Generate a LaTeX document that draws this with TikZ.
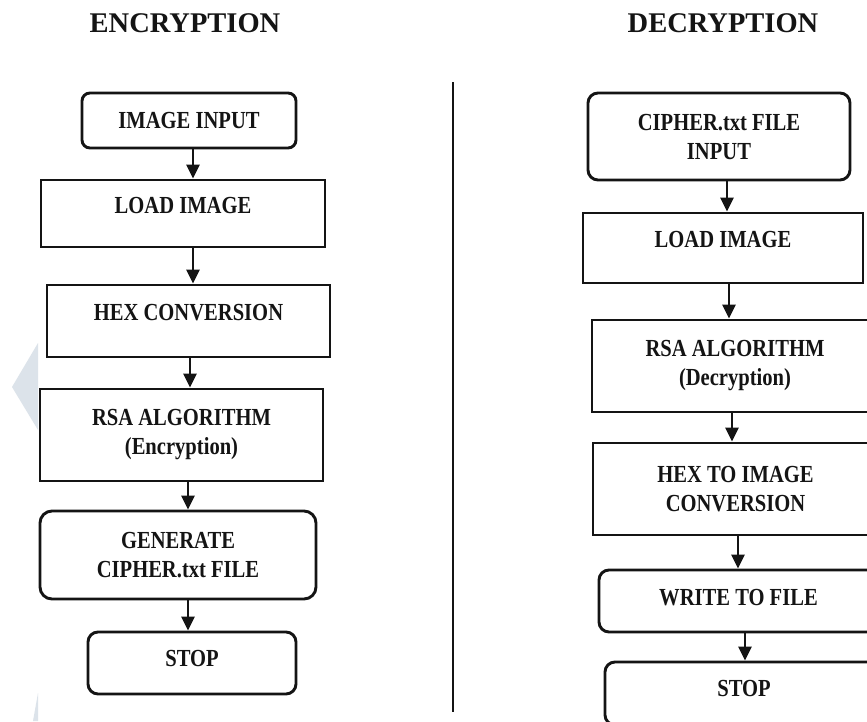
\documentclass[tikz,border=0pt]{standalone}
\usepackage{fontspec}
\setmainfont{Liberation Serif}
\newfontfamily\boxfont[FakeStretch=0.84]{Liberation Serif}
\usetikzlibrary{arrows.meta, calc}
\definecolor{ink}{HTML}{141414}
\definecolor{wmark}{HTML}{DCE3EA}

\begin{document}
\begin{tikzpicture}[
  x=1pt, y=-1pt,
  >={Triangle[length=14pt, width=13pt]},
  flowbox/.style={draw=ink, line width=2.9pt, fill=white, text=ink,
    font=\boxfont\fontsize{24.5}{29}\selectfont\bfseries,
    align=center, inner sep=0pt},
  termbox/.style={flowbox, rounded corners=#1},
  termbox/.default=8pt,
  flowarrow/.style={->, draw=ink, line width=2.6pt},
  heading/.style={font=\fontsize{28.5}{34}\selectfont\bfseries, text=ink},
]

% Page
\useasboundingbox (0,0) rectangle (867,721);
\clip (0,0) rectangle (867,721);
\fill[white] (0,0) rectangle (867,721);

% Faint marks on the left edge
\fill[wmark] (38,343) -- (12,387) -- (38,430) -- cycle;
\fill[wmark] (38,693) -- (33,721) -- (38,721) -- cycle;

% Titles
\node[heading] (enctitle) at (185,23) {ENCRYPTION};
\node[heading] (dectitle) at (723,23) {DECRYPTION};

% Divider
\draw[ink, line width=2.2pt] (453,82) -- (453,712);

% === Encryption ===
\node[termbox, minimum width=214pt, minimum height=55pt] (imgin) at (189,120.5)
  {IMAGE INPUT};
\node[flowbox, minimum width=284pt, minimum height=67pt, text depth=17pt] (loadenc) at (183,213.5)
  {LOAD IMAGE};
\node[flowbox, minimum width=283pt, minimum height=72pt, text depth=17pt] (hexenc) at (188.5,321)
  {HEX CONVERSION};
\node[flowbox, minimum width=283pt, minimum height=92pt] (rsaenc) at (181.5,435)
  {RSA ALGORITHM\\(Encryption)};
\node[termbox=12pt, minimum width=276pt, minimum height=88pt] (gencipher) at (178,555)
  {GENERATE\\CIPHER.txt FILE};
\node[termbox=10pt, minimum width=208pt, minimum height=62pt, text depth=9pt] (stopenc) at (192,663)
  {STOP};

\draw[flowarrow] ([xshift=4pt]imgin.south) -- ([xshift=4pt]imgin.south |- loadenc.north);
\draw[flowarrow] ([xshift=10pt]loadenc.south) -- ([xshift=10pt]loadenc.south |- hexenc.north);
\draw[flowarrow] ([xshift=1.5pt]hexenc.south) -- ([xshift=1.5pt]hexenc.south |- rsaenc.north);
\draw[flowarrow] ([xshift=6.5pt]rsaenc.south) -- ([xshift=6.5pt]rsaenc.south |- gencipher.north);
\draw[flowarrow] ([xshift=10pt]gencipher.south) -- ([xshift=10pt]gencipher.south |- stopenc.north);

% === Decryption ===
\node[termbox=10pt, minimum width=262pt, minimum height=87pt] (cipherin) at (719,136.5)
  {CIPHER.txt FILE\\INPUT};
\node[flowbox, minimum width=280pt, minimum height=70pt, text depth=18pt] (loaddec) at (723,248)
  {LOAD IMAGE};
\node[flowbox, minimum width=286pt, minimum height=92pt] (rsadec) at (735,366)
  {RSA ALGORITHM\\(Decryption)};
\node[flowbox, minimum width=285pt, minimum height=92pt] (hexdec) at (735.5,489)
  {HEX TO IMAGE\\CONVERSION};
\node[termbox=10pt, minimum width=279pt, minimum height=62pt, text depth=7pt] (writedec) at (738.5,601)
  {WRITE TO FILE};
\node[termbox=10pt, minimum width=278pt, minimum height=63pt, text depth=10pt] (stopdec) at (744,693.5)
  {STOP};

\draw[flowarrow] ([xshift=8pt]cipherin.south) -- ([xshift=8pt]cipherin.south |- loaddec.north);
\draw[flowarrow] ([xshift=6pt]loaddec.south) -- ([xshift=6pt]loaddec.south |- rsadec.north);
\draw[flowarrow] ([xshift=-3pt]rsadec.south) -- ([xshift=-3pt]rsadec.south |- hexdec.north);
\draw[flowarrow] ([xshift=2.5pt]hexdec.south) -- ([xshift=2.5pt]hexdec.south |- writedec.north);
\draw[flowarrow] ([xshift=6.5pt]writedec.south) -- ([xshift=6.5pt]writedec.south |- stopdec.north);

\end{tikzpicture}
\end{document}
